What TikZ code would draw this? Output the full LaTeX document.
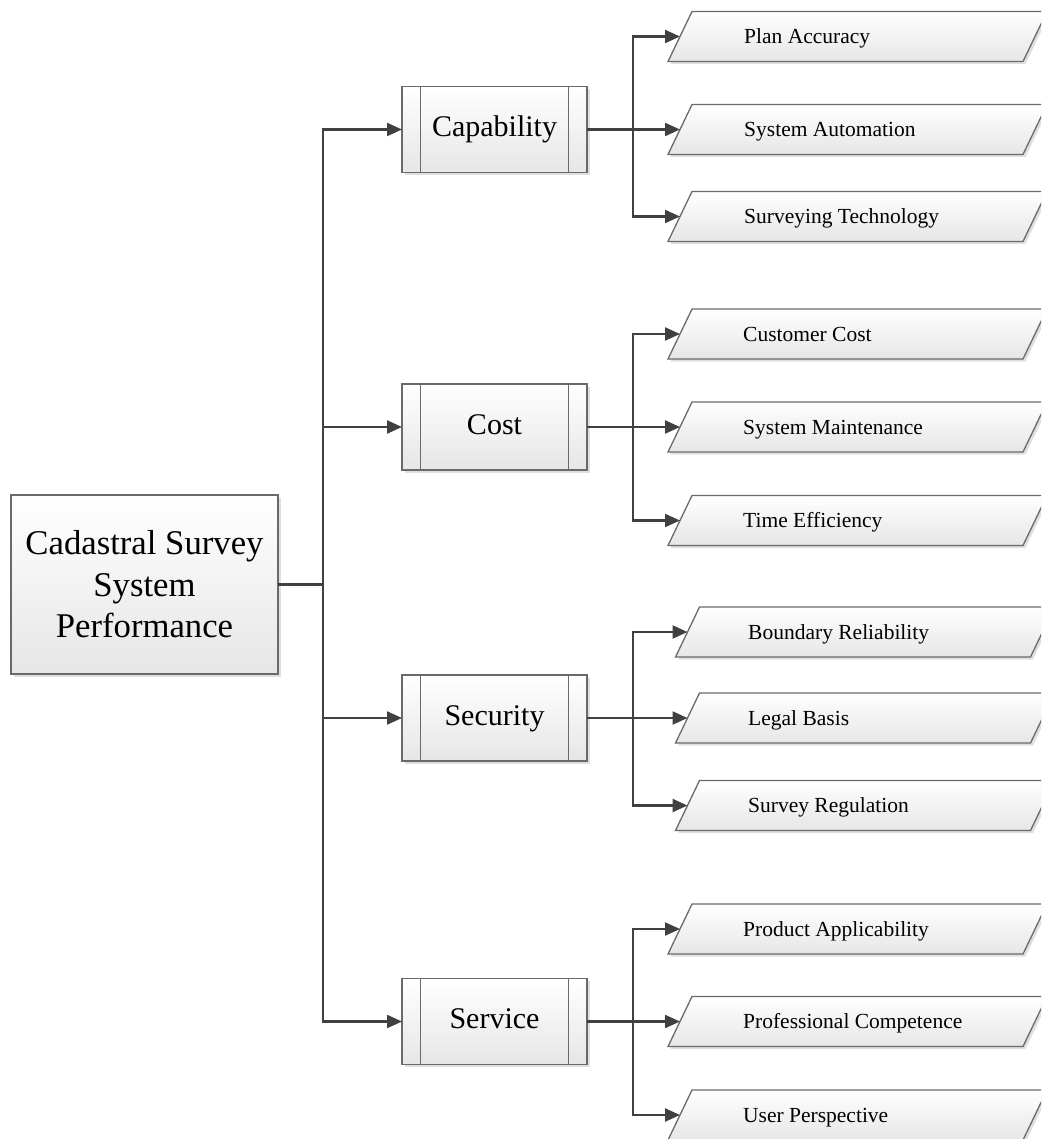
\documentclass[tikz,border=0pt]{standalone}
\usepackage{fontspec}
\setmainfont{Liberation Serif}
\usetikzlibrary{arrows.meta,shadows}
\definecolor{linecol}{HTML}{404040}
\definecolor{bordercol}{HTML}{6A6A6A}
\definecolor{fillbot}{HTML}{E6E6E6}
\begin{document}
\begin{tikzpicture}[x=1pt,y=-1pt,
 conn/.style={draw=linecol, line width=2.2pt},
 arr/.style={conn, -{Triangle[length=15pt,width=13pt]}},
 boxfill/.style={draw=bordercol, line width=1.3pt, top color=white, bottom color=fillbot,
   drop shadow={opacity=0.25, shadow xshift=2.5pt, shadow yshift=-2.5pt}},
 rootbox/.style={boxfill, rectangle, outer sep=0pt, minimum width=267pt, minimum height=179pt, inner sep=0pt,
   align=center, font=\fontsize{34.7}{41.5}\selectfont},
 procbox/.style={boxfill, rectangle, outer sep=0pt, minimum width=185pt, minimum height=86pt, inner sep=0pt,
   text height=20pt, text depth=6pt, font=\fontsize{30}{36}\selectfont},
 paraframe/.style={rectangle, minimum width=379pt, minimum height=50pt, inner sep=0pt, outer sep=0pt},
 ptext/.style={anchor=base west, inner sep=0pt, font=\fontsize{21.5}{25}\selectfont},
 innerline/.style={draw=bordercol, line width=1.3pt}
]
\useasboundingbox (0,0) rectangle (1041,1139);
\clip (0,0) rectangle (1041,1139);

% root
\node[rootbox] (root) at (144.5,584.5) {Cadastral Survey\\System\\Performance};

% process boxes
\node[procbox] (cap)  at (494.5,129.5)  {Capability};
\node[procbox] (cost) at (494.5,427)    {Cost};
\node[procbox] (sec)  at (494.5,718)    {Security};
\node[procbox] (serv) at (494.5,1021.5) {Service};
\foreach \n in {cap,cost,sec,serv}{
  \draw[innerline] ([xshift=18.5pt]\n.north west) -- ([xshift=18.5pt]\n.south west);
  \draw[innerline] ([xshift=-18.5pt]\n.north east) -- ([xshift=-18.5pt]\n.south east);
}

% parallelogram frames
\node[paraframe] (pa1) at (857.5,36.5)  {};
\node[paraframe] (pa2) at (857.5,129.5) {};
\node[paraframe] (pa3) at (857.5,216.5) {};
\node[paraframe] (pb1) at (857.5,334)   {};
\node[paraframe] (pb2) at (857.5,427)   {};
\node[paraframe] (pb3) at (857.5,520.5) {};
\node[paraframe] (pc1) at (865,632)     {};
\node[paraframe] (pc2) at (865,718)     {};
\node[paraframe] (pc3) at (865,805.5)   {};
\node[paraframe] (pd1) at (857.5,929)   {};
\node[paraframe] (pd2) at (857.5,1021.5){};
\node[paraframe] (pd3) at (857.5,1115)  {};
\foreach \p in {pa1,pa2,pa3,pb1,pb2,pb3,pc1,pc2,pc3,pd1,pd2,pd3}
  \path[boxfill] (\p.south west) -- ([xshift=-24pt]\p.south east) -- (\p.north east)
     -- ([xshift=24pt]\p.north west) -- cycle;

\node[ptext] (ta1) at (744,43.5)   {Plan Accuracy};
\node[ptext] (ta2) at (744,136.5)  {System Automation};
\node[ptext] (ta3) at (744,223.5)  {Surveying Technology};
\node[ptext] (tb1) at (743,341)    {Customer Cost};
\node[ptext] (tb2) at (743,434)    {System Maintenance};
\node[ptext] (tb3) at (743,527.5)  {Time Efficiency};
\node[ptext] (tc1) at (748,639)    {Boundary Reliability};
\node[ptext] (tc2) at (748,725)    {Legal Basis};
\node[ptext] (tc3) at (748,812.5)  {Survey Regulation};
\node[ptext] (td1) at (743,936)    {Product Applicability};
\node[ptext] (td2) at (743,1028.5) {Professional Competence};
\node[ptext] (td3) at (743,1122)   {User Perspective};

% main trunk
\coordinate (t) at (323,584.5);
\draw[conn] (root.east) -- (t);
\foreach \n in {cap,cost,sec,serv} \draw[arr] (t) |- (\n.west);

% sub trunks
\coordinate (s1) at (633,129.5);
\coordinate (s2) at (633,427);
\coordinate (s3) at (633,718);
\coordinate (s4) at (633,1021.5);
\draw[conn] (cap.east) -- (s1);
\draw[conn] (cost.east) -- (s2);
\draw[conn] (sec.east) -- (s3);
\draw[conn] (serv.east) -- (s4);
\foreach \p in {pa1,pa2,pa3} \draw[arr] (s1) |- ([xshift=12pt]\p.west);
\foreach \p in {pb1,pb2,pb3} \draw[arr] (s2) |- ([xshift=12pt]\p.west);
\foreach \p in {pc1,pc2,pc3} \draw[arr] (s3) |- ([xshift=12pt]\p.west);
\foreach \p in {pd1,pd2,pd3} \draw[arr] (s4) |- ([xshift=12pt]\p.west);
\end{tikzpicture}
\end{document}
